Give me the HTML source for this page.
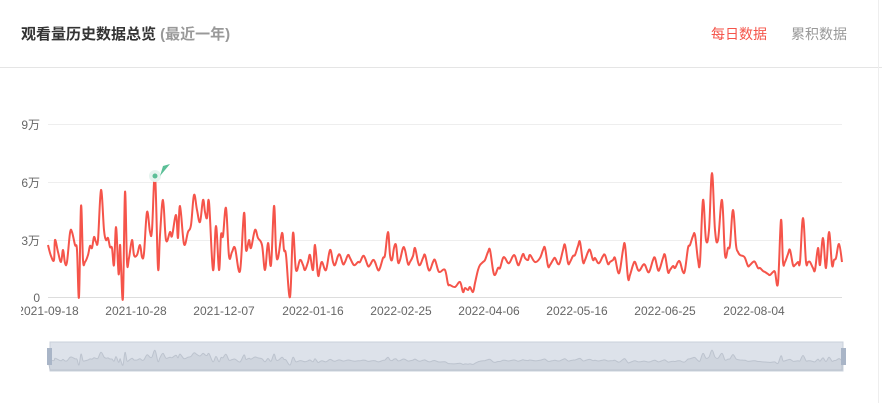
<!DOCTYPE html>
<html><head><meta charset="utf-8"><style>
html,body{margin:0;padding:0;background:#fff;width:882px;height:403px;overflow:hidden;font-family:"Liberation Sans","Noto Sans CJK SC",sans-serif}
.t{position:absolute;top:23px;left:21px;font-size:15px;font-weight:bold;color:#333}
.t span{color:#999}
.r{position:absolute;top:24px;font-size:14px}
.sep{position:absolute;left:0;top:67px;width:882px;height:1px;background:#e5e5e5}
.vb{position:absolute;right:3px;top:0;width:1px;height:403px;background:#eee}
</style></head><body>
<div class="t">观看量历史数据总览 <span>(最近一年)</span></div>
<div class="r" style="left:711px;color:#f5544a">每日数据</div>
<div class="r" style="left:791px;color:#999">累积数据</div>
<div class="sep"></div><div class="vb"></div>
<svg width="882" height="403" style="position:absolute;left:0;top:0" font-family="Liberation Sans, Noto Sans CJK SC, sans-serif">
<defs><clipPath id="cl"><rect x="21" y="0" width="861" height="403"/></clipPath></defs>
<g stroke="#eee" stroke-width="1">
<line x1="48" x2="842" y1="124.5" y2="124.5"/><line x1="48" x2="842" y1="182.5" y2="182.5"/><line x1="48" x2="842" y1="240.5" y2="240.5"/></g>
<line x1="48" x2="842" y1="297.5" y2="297.5" stroke="#ddd"/>
<g font-size="12" fill="#666" text-anchor="end">
<text x="40" y="129">9万</text><text x="40" y="187">6万</text><text x="40" y="245">3万</text><text x="40" y="302">0</text></g>
<g font-size="12" fill="#666" text-anchor="middle" clip-path="url(#cl)">
<text x="48" y="315">2021-09-18</text><text x="136" y="315">2021-10-28</text><text x="224" y="315">2021-12-07</text><text x="313" y="315">2022-01-16</text><text x="401" y="315">2022-02-25</text><text x="489" y="315">2022-04-06</text><text x="577" y="315">2022-05-16</text><text x="665" y="315">2022-06-25</text><text x="754" y="315">2022-08-04</text></g>
<path id="main" fill="none" stroke="#f5544a" stroke-width="2" stroke-linejoin="round"/>
<circle cx="155" cy="176" r="6" fill="#e6f4ef"/><circle cx="155" cy="176" r="2.5" fill="#5bbf97"/>
<path d="M160,176 L170,164 L163,166 Z" fill="#5bbf97"/>
<rect x="50" y="342" width="793" height="29" fill="#dde2ea" stroke="#c9d0db"/>
<path id="mini" fill="#cfd5de" stroke="#bcc3ce" stroke-width="1"/>
<rect x="47" y="348" width="5" height="17" fill="#a9b5c7"/><rect x="841" y="348" width="5" height="17" fill="#a9b5c7"/>
</svg>
<script>
var s="48,245 51,256 54,260 55,240 58,252 61,262 63,250 65,263 67,262 70,233 72,232 75,245 77,250 79,297 81,206 83,260 85,262 88,255 90,246 92,248 94,237 96,242 98,240 101,190 104,230 106,240 108,238 110,247 112,248 114,265 116,227 118,265 119,273 120,245 121,265 123,297 125,192 127,262 129,258 132,240 134,255 137,255 140,245 142,257 144,253 147,212 150,232 152,230 155,175 158,268 160,235 163,200 166,240 170,232 172,236 176,215 178,238 180,206 184,244 188,232 191,225 194,195 197,210 200,222 203,200 205,212 207,218 209,202 213,270 216,226 219,270 221,235 223,236 226,208 229,256 232,252 235,248 240,271 244,213 246,250 249,240 251,248 255,230 258,238 262,245 265,270 268,243 271,265 274,206 276,250 278,258 282,233 284,250 286,255 290,297 293,233 296,270 300,260 303,265 305,270 308,262 310,255 313,270 315,245 318,275 320,268 322,262 326,270 330,250 333,262 335,265 338,256 340,255 343,264 345,262 348,255 350,258 353,264 355,265 358,262 360,262 363,256 365,258 368,266 370,265 373,260 375,262 378,270 380,268 383,258 385,255 388,232 390,255 392,260 394,248 396,245 398,262 400,260 403,248 405,250 408,264 410,262 413,256 415,248 418,262 420,265 423,258 425,255 428,268 430,270 433,262 435,260 438,270 440,272 445,270 448,284 450,285 455,287 460,282 463,292 465,288 468,290 470,287 473,292 475,283 478,270 480,265 483,262 485,260 488,252 490,250 493,270 495,275 498,268 500,268 503,258 505,258 508,263 510,262 513,256 515,256 518,265 520,262 523,254 525,258 528,260 530,255 535,262 540,258 543,250 545,248 548,266 550,265 553,260 555,258 558,264 560,262 563,250 565,245 568,263 570,262 573,256 575,255 578,246 580,242 583,262 585,260 588,252 590,250 593,260 595,258 598,263 600,262 603,256 605,255 608,264 610,262 613,260 615,258 618,272 620,270 623,250 625,245 628,278 630,275 633,265 635,262 638,270 640,270 643,265 645,265 648,272 650,270 653,260 655,258 658,270 660,268 663,258 665,255 668,272 670,270 673,266 675,268 678,262 680,262 683,272 685,270 688,248 690,245 693,236 695,235 698,260 700,262 703,200 706,240 709,230 712,173 715,230 718,240 722,200 725,255 728,248 730,245 733,210 736,245 738,252 740,255 743,256 745,258 748,266 750,265 753,262 755,262 758,268 760,268 763,271 765,272 768,274 770,275 773,272 775,272 778,283 781,220 783,262 785,262 788,254 790,250 793,265 795,265 798,262 800,262 803,218 806,262 808,262 810,262 813,268 815,270 818,248 820,265 823,238 826,268 829,232 832,265 834,260 836,258 839,244 842,262";
var p=s.split(" ").map(function(q){return q.split(",").map(Number)});
function path(fy){var d="M"+p[0][0]+","+fy(p[0][1]);for(var i=0;i<p.length-1;i++){var a=p[Math.max(0,i-1)],b=p[i],c=p[i+1],e=p[Math.min(p.length-1,i+2)];var t=0.18;var c1x=b[0]+(c[0]-a[0])*t,c1y=fy(b[1])+(fy(c[1])-fy(a[1]))*t,c2x=c[0]-(e[0]-b[0])*t,c2y=fy(c[1])-(fy(e[1])-fy(b[1]))*t;d+=" C"+c1x.toFixed(1)+","+c1y.toFixed(1)+" "+c2x.toFixed(1)+","+c2y.toFixed(1)+" "+c[0]+","+fy(c[1]).toFixed(1);}return d;}
document.getElementById("main").setAttribute("d",path(function(y){return y}));
var fm=function(y){return 365-(297-y)*0.12};
document.getElementById("mini").setAttribute("d",path(fm)+" L842,370 L50,370 Z");
</script>
</body></html>
